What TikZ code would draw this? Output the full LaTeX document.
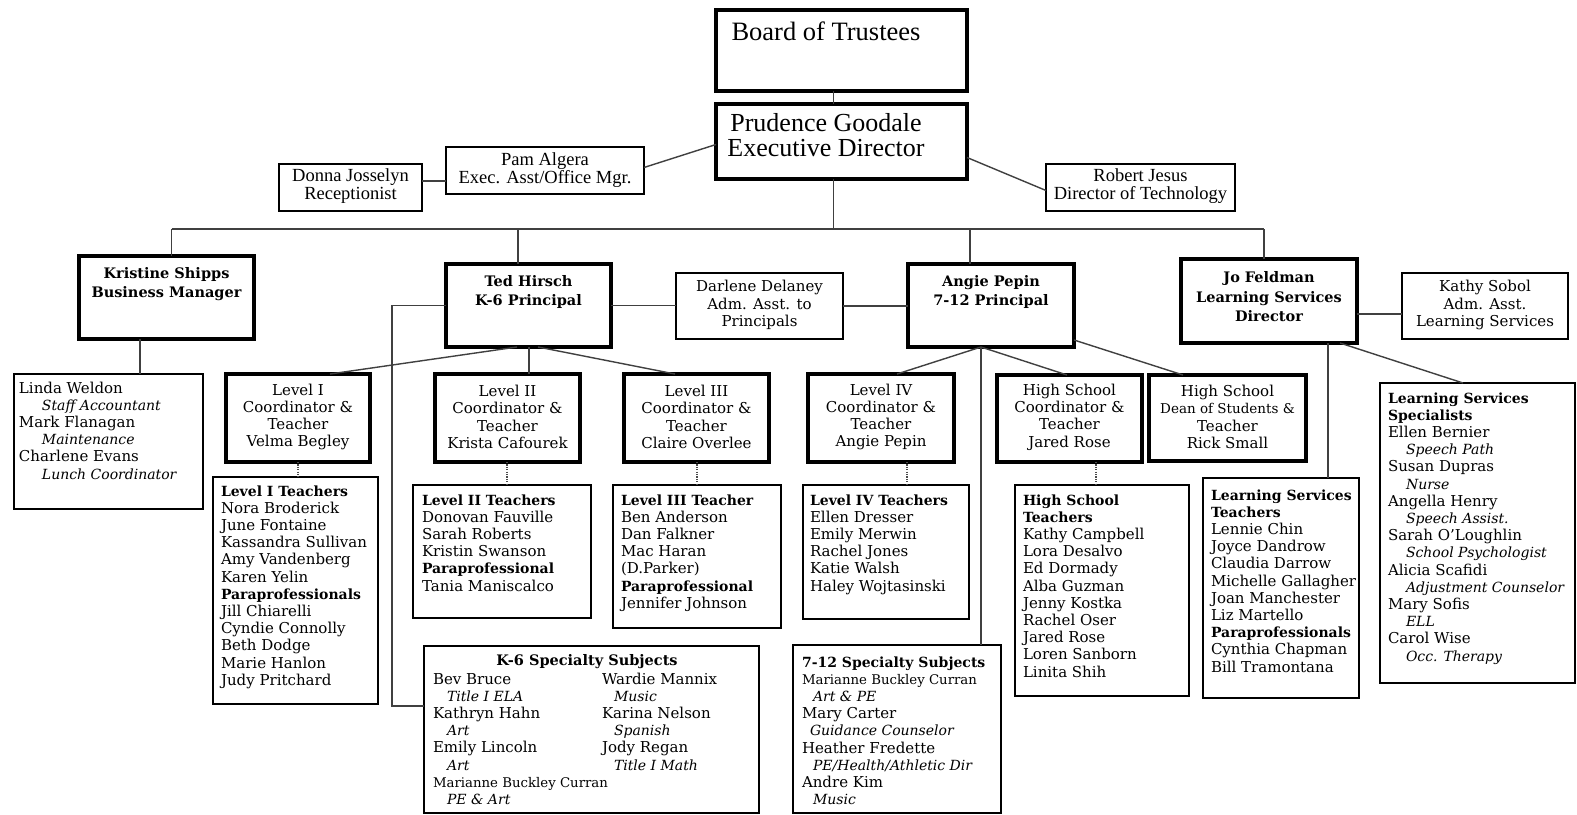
\documentclass[tikz,border=0pt]{standalone}
\usepackage{fontspec}
\setmainfont{DejaVu Serif}
\newfontfamily\tnr{Liberation Serif}
\usetikzlibrary{calc}
\newcommand\hdr[1]{{\fontsize{14}{17.2}\selectfont\bfseries #1}}
\newcommand\rolex[2][18pt]{\hspace*{#1}{\fontsize{14}{17.2}\selectfont\itshape #2}}
\newcommand\smallname[1]{{\fontsize{13.3}{17.2}\selectfont #1}}
\newcommand\bx[6]{\node[box,#1,minimum width=#4pt-#2pt,minimum height=#5pt-#3pt] (#6) at (#2,#3) {};}
\begin{document}
\begin{tikzpicture}[x=1pt,y=-1pt,
  box/.style={draw=black, rectangle, inner sep=0pt, outer sep=0pt, anchor=north west},
  thickb/.style={line width=3.8pt},
  midb/.style={line width=2.2pt},
  thinb/.style={line width=1.6pt},
  conn/.style={line width=1.4pt, draw=black!75},
  dots/.style={line width=1.4pt, draw=black!70, dash pattern=on 1.2pt off 1.2pt},
  tx/.style={inner sep=0pt, outer sep=0pt, align=left, anchor=north west, font=\fontsize{15}{17.2}\selectfont},
  tc/.style={inner sep=0pt, outer sep=0pt, align=center, anchor=center, font=\fontsize{15}{17.3}\selectfont},
  tb/.style={tc, font=\fontsize{14.5}{19.5}\selectfont\bfseries},
  ttop/.style={tc, font=\tnr\fontsize{18.5}{18}\selectfont}
]
\useasboundingbox (0,0) rectangle (1577,814);
\fill[white] (0,0) rectangle (1577,814);

% ---------- boxes ----------
\bx{thickb}{716}{10}{967}{91}{board}
\bx{thickb}{716}{104}{967}{179}{pres}
\bx{thinb}{446}{147}{644}{194}{pam}
\bx{thinb}{279}{164}{422}{211}{donna}
\bx{thinb}{1046}{164}{1235}{211}{robert}
\bx{thickb}{79}{256}{254}{339}{kris}
\bx{thickb}{446}{264}{611}{347}{ted}
\bx{thinb}{676}{273}{843}{339}{darl}
\bx{thickb}{908}{264}{1074}{347}{angie}
\bx{thickb}{1181}{259}{1357}{343}{jo}
\bx{thinb}{1402}{273}{1568}{339}{kathy}
\bx{thinb}{14}{374}{203}{509}{linda}
\bx{thickb}{226}{374}{370}{462}{lone}
\bx{midb}{213}{477}{378}{704}{lonet}
\bx{thickb}{435}{374}{580}{462}{ltwo}
\bx{midb}{413}{485}{591}{618}{ltwot}
\bx{thickb}{624}{374}{769}{462}{lthree}
\bx{midb}{613}{485}{781}{628}{lthreet}
\bx{thickb}{808}{374}{954}{462}{lfour}
\bx{midb}{803}{485}{969}{619}{lfourt}
\bx{thickb}{997}{375}{1142}{462}{hs}
\bx{midb}{1015}{485}{1189}{696}{hst}
\bx{thickb}{1149}{375}{1306}{461}{dean}
\bx{midb}{1203}{478}{1359}{698}{lst}
\bx{midb}{1380}{383}{1575}{683}{lss}
\bx{midb}{424}{646}{759}{813}{ksix}
\bx{midb}{793}{645}{1001}{813}{sxii}

% ---------- texts ----------
\node[tc, font=\tnr\fontsize{26.5}{30}\selectfont] (boardT) at (826,31) {Board of Trustees};
\node[tc, font=\tnr\fontsize{26}{25}\selectfont] (presT) at (826,135) {Prudence Goodale\\Executive Director};
\node[ttop] (pamT) at (545,170) {Pam Algera\\Exec. Asst/Office Mgr.};
\node[ttop] (donnaT) at (350.5,186) {Donna Josselyn\\Receptionist};
\node[ttop] (robertT) at (1140.5,186) {Robert Jesus\\Director of Technology};

\node[tb] (krisT) at (166.5,284) {Kristine Shipps\\Business Manager};
\node[tb] (tedT) at (528.5,292) {Ted Hirsch\\K-6 Principal};
\node[tb] (angieT) at (991,292) {Angie Pepin\\7-12 Principal};
\node[tb] (joT) at (1269,297) {Jo Feldman\\Learning Services\\Director};
\node[tc] (darlT) at (759.5,305) {Darlene Delaney\\Adm. Asst. to\\Principals};
\node[tc] (kathyT) at (1485,305) {Kathy Sobol\\Adm. Asst.\\Learning Services};

\node[tc] (loneT) at (298,417) {Level I\\Coordinator \&\\Teacher\\Velma Begley};
\node[tc] (ltwoT) at (507.5,417) {Level II\\Coordinator \&\\Teacher\\Krista Cafourek};
\node[tc] (lthreeT) at (696.5,417) {Level III\\Coordinator \&\\Teacher\\Claire Overlee};
\node[tc] (lfourT) at (881,417) {Level IV\\Coordinator \&\\Teacher\\Angie Pepin};
\node[tc] (hsT) at (1069.5,417) {High School\\Coordinator \&\\Teacher\\Jared Rose};
\node[tc] (deanT) at (1227.5,417) {High School\\{\fontsize{13.5}{17.3}\selectfont Dean of Students \&}\\Teacher\\Rick Small};

\node[tx] (lindaT) at (19,381) {\strut Linda Weldon\\\rolex[23pt]{Staff Accountant}\\Mark Flanagan\\\rolex[23pt]{Maintenance}\\Charlene Evans\\\rolex[23pt]{Lunch Coordinator}};
\node[tx] (lonetT) at (221,484) {\strut\hdr{Level I Teachers}\\Nora Broderick\\June Fontaine\\Kassandra Sullivan\\Amy Vandenberg\\Karen Yelin\\\hdr{Paraprofessionals}\\Jill Chiarelli\\Cyndie Connolly\\Beth Dodge\\Marie Hanlon\\Judy Pritchard};
\node[tx] (ltwotT) at (422,493) {\strut\hdr{Level II Teachers}\\Donovan Fauville\\Sarah Roberts\\Kristin Swanson\\\hdr{Paraprofessional}\\Tania Maniscalco};
\node[tx] (lthreetT) at (621,493) {\strut\hdr{Level III Teacher}\\Ben Anderson\\Dan Falkner\\Mac Haran\\(D.Parker)\\\hdr{Paraprofessional}\\Jennifer Johnson};
\node[tx] (lfourtT) at (810,493) {\strut\hdr{Level IV Teachers}\\Ellen Dresser\\Emily Merwin\\Rachel Jones\\Katie Walsh\\Haley Wojtasinski};
\node[tx] (hstT) at (1023,493) {\strut\hdr{High School}\\\hdr{Teachers}\\Kathy Campbell\\Lora Desalvo\\Ed Dormady\\Alba Guzman\\Jenny Kostka\\Rachel Oser\\Jared Rose\\Loren Sanborn\\Linita Shih};
\node[tx] (lstT) at (1211,488) {\strut\hdr{Learning Services}\\\hdr{Teachers}\\Lennie Chin\\Joyce Dandrow\\Claudia Darrow\\Michelle Gallagher\\Joan Manchester\\Liz Martello\\\hdr{Paraprofessionals}\\Cynthia Chapman\\Bill Tramontana};
\node[tx] (lssT) at (1388,391) {\strut\hdr{Learning Services}\\\hdr{Specialists}\\Ellen Bernier\\\rolex{Speech Path}\\Susan Dupras\\\rolex{Nurse}\\Angella Henry\\\rolex{Speech Assist.}\\Sarah O’Loughlin\\\rolex{School Psychologist}\\Alicia Scafidi\\\rolex{Adjustment Counselor}\\Mary Sofis\\\rolex{ELL}\\Carol Wise\\\rolex{Occ. Therapy}};

\node[tc, font=\fontsize{14.5}{17.2}\selectfont\bfseries] (ksixH) at (587,662) {K-6 Specialty Subjects};
\node[tx] (ksixL) at (433,672) {\strut Bev Bruce\\\rolex[14pt]{Title I ELA}\\Kathryn Hahn\\\rolex[14pt]{Art}\\Emily Lincoln\\\rolex[14pt]{Art}\\\smallname{Marianne Buckley Curran}\\\rolex[14pt]{PE \& Art}};
\node[tx] (ksixR) at (602,672) {\strut Wardie Mannix\\\rolex[12pt]{Music}\\Karina Nelson\\\rolex[12pt]{Spanish}\\Jody Regan\\\rolex[12pt]{Title I Math}};
\node[tx] (sxiiT) at (802,655) {\strut\hdr{7-12 Specialty Subjects}\\\smallname{Marianne Buckley Curran}\\\rolex[11pt]{Art \& PE}\\Mary Carter\\\rolex[8pt]{Guidance Counselor}\\Heather Fredette\\\rolex[11pt]{PE/Health/Athletic Dir}\\Andre Kim\\\rolex[11pt]{Music}};

% ---------- connectors ----------
\coordinate (bus) at (0,229);
\draw[conn] ([xshift=-8pt]board.south) -- ([xshift=-8pt]pres.north);
\draw[conn] ([yshift=6.5pt]donna.east) -- ([yshift=6.5pt]donna.east -| pam.west);
\draw[conn] ([yshift=3pt]pam.east) -- ([yshift=-3pt]pres.west);
\draw[conn] ([yshift=-16pt]pres.east) -- ([yshift=-3pt]robert.west);
\draw[conn] ([xshift=-8pt]pres.south) -- ([xshift=-8pt]pres.south |- bus);
\draw[conn] ([xshift=5pt]kris.north |- bus) -- ([xshift=-5pt]jo.north |- bus);
\draw[conn] ([xshift=5pt]kris.north |- bus) -- ([xshift=5pt]kris.north);
\draw[conn] ([xshift=-10.5pt]ted.north |- bus) -- ([xshift=-10.5pt]ted.north);
\draw[conn] ([xshift=-21pt]angie.north |- bus) -- ([xshift=-21pt]angie.north);
\draw[conn] ([xshift=-5pt]jo.north |- bus) -- ([xshift=-5pt]jo.north);

\draw[conn] (ted.east) -- (ted.east -| darl.west);
\draw[conn] (darl.east) -- (darl.east -| angie.west);
\draw[conn] ([yshift=-13pt]jo.east) -- ([yshift=-13pt]jo.east -| kathy.west);

\draw[conn] ([xshift=-26.5pt]kris.south) -- ([xshift=-26.5pt]kris.south |- linda.north);
\draw[conn] (ted.west) -- ++(-54,0) |- ([yshift=23.5pt]ksix.west);

\draw[conn] ([xshift=-11.5pt]ted.south) -- ([xshift=32pt]lone.north);
\draw[conn] ([xshift=0.5pt]ted.south) -- ([xshift=0.5pt]ted.south |- ltwo.north);
\draw[conn] ([xshift=9.5pt]ted.south) -- ([xshift=-21.5pt]lthree.north);

\draw[conn] ([xshift=-10pt]angie.south) -- ([xshift=16pt]lfour.north);
\draw[conn] ([xshift=-10pt]angie.south) -- ([xshift=-10pt]angie.south |- sxii.north);
\draw[conn] ([xshift=-10pt]angie.south) -- ([xshift=-2.5pt]hs.north);
\draw[conn] ([yshift=-34.5pt]angie.east) -- ([xshift=-44.5pt]dean.north);

\draw[conn] ([xshift=59pt]jo.south) -- ([xshift=59pt]jo.south |- lst.north);
\draw[conn] ([xshift=71pt]jo.south) -- ([xshift=-14.5pt]lss.north);

\draw[dots] (lone.south) -- (lone.south |- lonet.north);
\draw[dots] ([xshift=-0.5pt]ltwo.south) -- ([xshift=-0.5pt]ltwo.south |- ltwot.north);
\draw[dots] ([xshift=0.5pt]lthree.south) -- ([xshift=0.5pt]lthree.south |- lthreet.north);
\draw[dots] ([xshift=26pt]lfour.south) -- ([xshift=26pt]lfour.south |- lfourt.north);
\draw[dots] ([xshift=26.5pt]hs.south) -- ([xshift=26.5pt]hs.south |- hst.north);
\end{tikzpicture}
\end{document}
